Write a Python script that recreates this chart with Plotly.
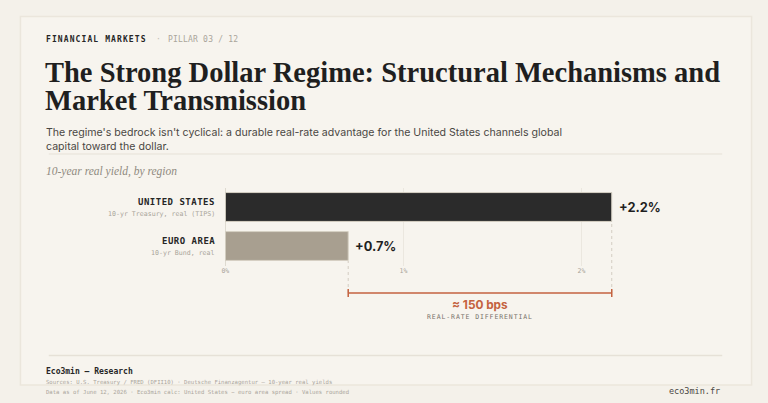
import plotly.graph_objects as go

# Datos
regions = ["EURO AREA", "UNITED STATES"]
instruments = ["10-yr Bund, real", "10-yr Treasury, real (TIPS)"]
real_yields = [0.69, 2.17]
value_labels = ["+0.7%", "+2.2%"]
tick_vals = [0, 1, 2]
tick_text = ["0%", "1%", "2%"]
spread_label = "≈ 150 bps"

W, H = 768, 403
MONO = "DejaVu Sans Mono"
SANS = "Inter"
SERIF = "Liberation Serif"
INK = "#262626"
ACCENT = "#c4623f"
LEFT_FIX = -5  # las anotaciones alineadas a la izquierda quedan corridas


def px_x(p):
    return p / W


def px_y(p):
    return 1 - p / H


# escala: 0% en x=224, 179 px por punto
x0_px, unit_px, x_end_px = 222.5, 179, 680
x_range = [0, (x_end_px - x0_px) / unit_px]

fig = go.Figure()
fig.add_trace(go.Bar(
    y=regions, x=real_yields, orientation="h",
    marker=dict(color=["#a89f90", "#2b2b2b"], line=dict(color="#d6d0c4", width=1)),
    width=0.74, hoverinfo="skip",
))

shapes = [
    # tarjeta
    dict(type="rect", xref="paper", yref="paper", x0=px_x(16.5), x1=px_x(751.5), y0=px_y(385), y1=px_y(16.5),
         fillcolor="#f7f4ee", line=dict(color="#ebe6dc", width=1.5), layer="below"),
    # separadores
    dict(type="line", xref="paper", yref="paper", x0=px_x(45), x1=px_x(722), y0=px_y(154), y1=px_y(154),
         line=dict(color="#e6e1d7", width=1)),
    dict(type="line", xref="paper", yref="paper", x0=px_x(45), x1=px_x(722), y0=px_y(355.5), y1=px_y(355.5),
         line=dict(color="#e6e1d7", width=1.5)),
    # eje vertical
    dict(type="line", xref="x", yref="paper", x0=0, x1=0, y0=px_y(266), y1=px_y(188),
         line=dict(color="#cfc9bd", width=1.2)),
]

# lineas punteadas hasta el corchete
us, ea = real_yields[1], real_yields[0]
shapes.append(dict(type="line", xref="x", yref="paper", x0=ea, x1=ea, y0=px_y(293), y1=px_y(261),
                   line=dict(color="#d3cdc2", width=1, dash="dot")))
shapes.append(dict(type="line", xref="x", yref="paper", x0=us, x1=us, y0=px_y(293), y1=px_y(222),
                   line=dict(color="#d3cdc2", width=1, dash="dot")))
# corchete
shapes.append(dict(type="line", xref="x", yref="paper", x0=ea, x1=us, y0=px_y(293), y1=px_y(293),
                   line=dict(color=ACCENT, width=1.5)))
for v in (ea, us):
    shapes.append(dict(type="line", xref="x", yref="paper", x0=v, x1=v, y0=px_y(289), y1=px_y(297),
                       line=dict(color=ACCENT, width=1.5)))

ann = []


def text(x, y, s, size, color, family, anchor="left", **kw):
    if anchor == "left":
        x += LEFT_FIX
    ann.append(dict(xref="paper", yref="paper", x=px_x(x), y=px_y(y), text=s, showarrow=False,
                    xanchor=anchor, yanchor="middle", align=anchor,
                    font=dict(size=size, color=color, family=family), **kw))


def spaced(s, ls):
    return '<span style="letter-spacing:%spx">%s</span>' % (ls, s)


text(45, 39, "<b>" + spaced("FINANCIAL MARKETS", 1.1) + "</b>", 8, INK, MONO)
text(156, 39, "·", 8, "#c2bdb3", MONO)
text(168, 39, spaced("PILLAR 03 / 12", 0.2), 8, "#aaa59b", MONO)
text(44, 72, "<b>The Strong Dollar Regime: Structural Mechanisms and</b>", 28.5, "#1f1f1f", SERIF)
text(44, 100, "<b>Market Transmission</b>", 28.5, "#1f1f1f", SERIF)
text(45, 139, "The regime's bedrock isn't cyclical: a durable real-rate advantage for the United States channels global<br>capital toward the dollar.",
     10.6, "#4a4743", SANS)
text(45, 171, "<i>10-year real yield, by region</i>", 11.5, "#8f8a80", SERIF)

# etiquetas de categoria
for reg, ins, yc in zip(regions, instruments, [246, 207]):
    text(214, yc - 5, "<b>" + spaced(reg, 0.5) + "</b>", 9, INK, MONO, anchor="right")
    text(214, yc + 7, ins, 6.6, "#a9a49a", MONO, anchor="right")

# valores
for v, lab, reg in zip(real_yields, value_labels, regions):
    ann.append(dict(xref="x", yref="y", x=v, y=reg, text="<b>" + lab + "</b>",
                    showarrow=False, xanchor="left", xshift=5,
                    font=dict(size=12.8, color="#1f1f1f", family=SANS)))

mid = (ea + us) / 2
ann.append(dict(xref="x", yref="paper", x=mid, y=px_y(305), text="<b>" + spread_label + "</b>", showarrow=False,
                xanchor="center", yanchor="middle", font=dict(size=11.8, color=ACCENT, family=SANS)))
ann.append(dict(xref="x", yref="paper", x=mid, y=px_y(317), text=spaced("REAL-RATE DIFFERENTIAL", 0.9),
                showarrow=False, xanchor="center", yanchor="middle",
                font=dict(size=6.5, color="#77726a", family=MONO)))

# pie
text(45, 371, "<b>Eco3min — Research</b>", 8, INK, MONO)
text(45, 382, "Sources: U.S. Treasury / FRED (DFII10) · Deutsche Finanzagentur — 10-year real yields", 5.6, "#aaa59b", MONO)
text(45, 392, "Data as of June 12, 2026 · Eco3min calc: United States − euro area spread · Values rounded", 5.6, "#aaa59b", MONO)
text(722, 391, "eco3min.fr", 8.5, "#4a4743", MONO, anchor="right")

fig.update_layout(
    width=W, height=H, margin=dict(l=0, r=0, t=0, b=0),
    paper_bgcolor="#f4f1ea", plot_bgcolor="rgba(0,0,0,0)",
    showlegend=False,
    shapes=shapes, annotations=ann,
    xaxis=dict(domain=[px_x(x0_px), px_x(x_end_px)], range=x_range, tickvals=tick_vals, ticktext=tick_text,
               showgrid=True, gridcolor="#ebe7df", gridwidth=1, zeroline=False, showline=False,
               ticks="", tickfont=dict(size=6.5, color="#aaa59b", family=MONO), anchor="y"),
    yaxis=dict(domain=[px_y(265.5), px_y(187.5)], range=[-0.5, 1.5], categoryorder="array",
               categoryarray=regions, showticklabels=False, showgrid=False, zeroline=False, showline=False),
)

fig.write_html("out.html", config={"displayModeBar": False},
               post_script="document.body.style.margin='0';")
